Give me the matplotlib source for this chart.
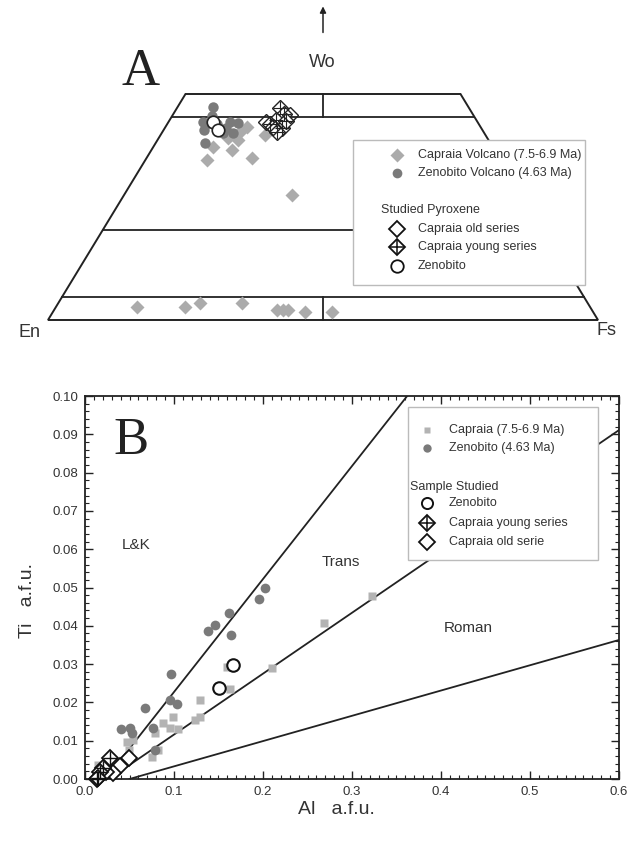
import numpy as np
import matplotlib.pyplot as plt
from matplotlib.patches import Rectangle, Polygon
from matplotlib.ticker import MultipleLocator

plt.rcParams['font.family'] = ['Liberation Sans', 'DejaVu Sans']

# ---------------- Panel A : pyroxene quadrilateral (Wo, Fs in mol %) ----------------
capraia_vol_wo = [38.3, 35.4, 37.6, 35.8, 39.8, 42.7, 41.6, 40.9, 40.3, 27.7,
                  2.9, 2.9, 3.8, 3.8, 2.2, 2.2, 2.2, 1.8, 1.8]
capraia_vol_fs = [10.8, 11.2, 14.7, 19.2, 14.6, 14.8, 14.1, 19.0, 12.6, 30.5,
                  14.7, 23.5, 25.7, 33.4, 40.5, 41.6, 42.5, 45.8, 50.7]
zenobito_vol_wo = [47.1, 43.6, 43.8, 43.8, 43.6, 41.4, 41.4, 39.2, 43.4, 42.5, 42.0, 45.1]
zenobito_vol_fs = [6.5, 7.3, 6.3, 11.2, 12.7, 12.9, 11.1, 8.9, 9.0, 11.1, 7.4, 7.3]

px_old_wo = [43.8, 45.4, 42.7]
px_old_fs = [17.7, 21.3, 19.6]
px_young_wo = [46.9, 45.6, 44.2, 43.4, 42.5, 44.0, 41.6]
px_young_fs = [18.7, 20.1, 19.4, 18.7, 21.3, 21.3, 20.8]
px_zeno_wo = [43.8, 42.0]
px_zeno_fs = [8.1, 9.9]

# ---------------- Panel B : Ti vs Al (a.f.u.) ----------------
capraia_al = [0.322, 0.268, 0.210, 0.163, 0.159, 0.129, 0.124, 0.129, 0.099, 0.088,
              0.0955, 0.105, 0.0787, 0.047, 0.054, 0.082, 0.075, 0.049, 0.015, 0.017]
capraia_ti = [0.0478, 0.0408, 0.0289, 0.0234, 0.0293, 0.0206, 0.0154, 0.0163, 0.0163, 0.0147,
              0.0132, 0.0130, 0.0119, 0.0097, 0.0102, 0.0077, 0.0058, 0.0076, 0.0037, 0.0023]
zenobito_al = [0.202, 0.196, 0.162, 0.146, 0.138, 0.164, 0.097, 0.0955, 0.103, 0.0674,
               0.041, 0.0506, 0.0524, 0.0768, 0.0787, 0.020]
zenobito_ti = [0.050, 0.047, 0.0433, 0.0402, 0.0386, 0.0376, 0.0274, 0.0206, 0.0196, 0.0185,
               0.0130, 0.0132, 0.0119, 0.0132, 0.0076, 0.0010]

st_zeno_al = [0.1667, 0.151]
st_zeno_ti = [0.0298, 0.0237]
st_young_al = [0.028, 0.0206, 0.017, 0.013, 0.015]
st_young_ti = [0.0054, 0.0028, 0.0019, 0.0000, 0.0002]
st_old_al = [0.049, 0.039, 0.032, 0.024]
st_old_ti = [0.0054, 0.0034, 0.0015, 0.0019]

# field boundaries (Al, Ti end points)
lk_trans_al, lk_trans_ti = [0.023, 0.362], [0.0, 0.100]
trans_roman_al, trans_roman_ti = [0.027, 0.600], [0.0, 0.0911]
roman_low_al, roman_low_ti = [0.050, 0.600], [0.0, 0.0363]

LIGHT = '#ababab'
DARK = '#7a7a7a'
W, H = 632, 841


def tern(wo, fs):
    wo = np.asarray(wo, float)
    fs = np.asarray(fs, float)
    return fs + wo / 2.0, wo


fig = plt.figure(figsize=(W / 100, H / 100), dpi=100)

# ---- panel A axes: x = Fs + Wo/2 (0..100), y = Wo ----
axA = fig.add_axes([0, 1 - 350 / H, 1, 350 / H])
axA.set_xlim(-48 / 5.5, (W - 48) / 5.5)
axA.set_ylim((320 - 350) / 4.52, 320 / 4.52)
axA.axis('off')

outline = Polygon([(0, 0), (100, 0), (75, 50), (25, 50)], closed=True,
                  fill=False, ec='#222222', lw=1.4)
axA.add_patch(outline)
for wo in (45, 20, 5):
    axA.plot([wo / 2, 100 - wo / 2], [wo, wo], color='#222222', lw=1.3)
axA.plot([50, 50], [45, 50], color='#222222', lw=1.3)
axA.plot([50, 50], [0, 5], color='#222222', lw=1.3)
axA.annotate('', xy=(50, 70.0), xytext=(50, 63.0),
             arrowprops=dict(arrowstyle='-|>', color='#222222', lw=1.1, mutation_scale=9))

x, y = tern(capraia_vol_wo, capraia_vol_fs)
axA.plot(x, y, 'D', ms=7, color=LIGHT, mec='none', zorder=3)
x, y = tern(zenobito_vol_wo, zenobito_vol_fs)
axA.plot(x, y, 'o', ms=7.5, color=DARK, mec='none', zorder=3)
x, y = tern(px_young_wo, px_young_fs)
axA.plot(x, y, 'D', ms=8, mfc='white', mec='#222222', mew=1.0, zorder=4)
axA.plot(x, y, '+', ms=10, color='#222222', mew=0.8, zorder=5)
x, y = tern(px_old_wo, px_old_fs)
axA.plot(x, y, 'D', ms=8, mfc='none', mec='#222222', mew=1.0, zorder=5)
x, y = tern(px_zeno_wo, px_zeno_fs)
axA.plot(x, y, 'o', ms=9, mfc='white', mec='#222222', mew=1.2, zorder=5)

# ---- panel B axes ----
axB = fig.add_axes([85 / W, 1 - 779 / H, 534 / W, 383 / H])
axB.set_xlim(0, 0.6)
axB.set_ylim(0, 0.10)
axB.plot(lk_trans_al, lk_trans_ti, color='#222222', lw=1.3, zorder=2)
axB.plot(trans_roman_al, trans_roman_ti, color='#222222', lw=1.3, zorder=2)
axB.plot(roman_low_al, roman_low_ti, color='#222222', lw=1.3, zorder=2)

axB.plot(capraia_al, capraia_ti, 's', ms=5.5, color='#b3b3b3', mec='none', zorder=3)
axB.plot(zenobito_al, zenobito_ti, 'o', ms=7, color=DARK, mec='none', zorder=3)
axB.plot(st_old_al, st_old_ti, 'D', ms=8, mfc='white', mec='#111111', mew=1.3, zorder=4, clip_on=False)
axB.plot(st_young_al, st_young_ti, 'D', ms=8, mfc='white', mec='#111111', mew=1.3, zorder=5, clip_on=False)
axB.plot(st_young_al, st_young_ti, '+', ms=10, color='#111111', mew=1.0, zorder=6, clip_on=False)
axB.plot(st_zeno_al, st_zeno_ti, 'o', ms=9, mfc='white', mec='#111111', mew=1.5, zorder=5)

axB.xaxis.set_major_locator(MultipleLocator(0.1))
axB.xaxis.set_minor_locator(MultipleLocator(0.01))
axB.yaxis.set_major_locator(MultipleLocator(0.01))
axB.yaxis.set_minor_locator(MultipleLocator(0.002))
axB.xaxis.set_major_formatter(plt.FuncFormatter(lambda v, p: f'{v:.1f}'))
axB.yaxis.set_major_formatter(plt.FuncFormatter(lambda v, p: f'{v:.2f}'))
axB.tick_params(which='both', direction='in', top=True, right=True,
                labelsize=9.5, colors='#222222', labelcolor='#333333')
axB.tick_params(which='major', length=6, width=1.0, pad=5)
axB.tick_params(which='minor', length=3, width=0.8)
for s in axB.spines.values():
    s.set_linewidth(1.3)
    s.set_color('#222222')

# ---- overlay in pixel coordinates for labels and legends ----
ov = fig.add_axes([0, 0, 1, 1])
ov.set_xlim(0, W)
ov.set_ylim(H, 0)
ov.axis('off')
ov.patch.set_alpha(0)

tc = '#333333'
ov.text(141, 72, 'A', family='Liberation Serif', fontsize=38, ha='center', va='center', color='#222222')
ov.text(322, 62, 'Wo', fontsize=13, ha='center', va='center', color=tc)
ov.text(30, 332, 'En', fontsize=13, ha='center', va='center', color=tc)
ov.text(606, 330, 'Fs', fontsize=13, ha='center', va='center', color=tc)

# legend A
ov.add_patch(Rectangle((353, 140), 232, 145, fc='white', ec='#bbbbbb', lw=1.0, zorder=2))
ov.plot(397, 155, 'D', ms=7, color=LIGHT, mec='none', zorder=3)
ov.plot(397, 173, 'o', ms=7, color=DARK, mec='none', zorder=3)
ov.plot(397, 229, 'D', ms=8, mfc='white', mec='#111111', mew=1.3, zorder=3)
ov.plot(397, 247, 'D', ms=8, mfc='white', mec='#111111', mew=1.3, zorder=3)
ov.plot(397, 247, '+', ms=10, color='#111111', mew=1.1, zorder=4)
ov.plot(397, 266, 'o', ms=9, mfc='white', mec='#111111', mew=1.3, zorder=3)
for ty, s in [(155, 'Capraia Volcano (7.5-6.9 Ma)'), (173, 'Zenobito Volcano (4.63 Ma)'),
              (229, 'Capraia old series'), (247, 'Capraia young series'), (266, 'Zenobito')]:
    ov.text(418, ty, s, fontsize=9, va='center', color=tc, zorder=4)
ov.text(381, 210, 'Studied Pyroxene', fontsize=9, va='center', color=tc, zorder=4)

# panel B labels
ov.text(131, 441, 'B', family='Liberation Serif', fontsize=38, ha='center', va='center', color='#222222')
ov.text(136, 545, 'L&K', fontsize=11, ha='center', va='center', color=tc)
ov.text(341, 562, 'Trans', fontsize=11, ha='center', va='center', color=tc)
ov.text(468, 628, 'Roman', fontsize=11, ha='center', va='center', color=tc)
ov.text(28, 600, 'Ti   a.f.u.', fontsize=14, rotation=90, ha='center', va='center', color=tc)
ov.text(336, 809, 'Al   a.f.u.', fontsize=14, ha='center', va='center', color=tc)

# legend B
ov.add_patch(Rectangle((408, 407), 190, 153, fc='white', ec='#bbbbbb', lw=1.0, zorder=2))
ov.plot(427, 430, 's', ms=5, color='#b3b3b3', mec='none', zorder=3)
ov.plot(427, 448, 'o', ms=6, color=DARK, mec='none', zorder=3)
ov.plot(427, 503, 'o', ms=8, mfc='white', mec='#111111', mew=1.4, zorder=3)
ov.plot(427, 523, 'D', ms=8, mfc='white', mec='#111111', mew=1.3, zorder=3)
ov.plot(427, 523, '+', ms=10, color='#111111', mew=1.1, zorder=4)
ov.plot(427, 542, 'D', ms=8, mfc='white', mec='#111111', mew=1.3, zorder=3)
for ty, s in [(430, 'Capraia (7.5-6.9 Ma)'), (448, 'Zenobito (4.63 Ma)'),
              (503, 'Zenobito'), (523, 'Capraia young series'), (542, 'Capraia old serie')]:
    ov.text(449, ty, s, fontsize=9, va='center', color=tc, zorder=4)
ov.text(410, 487, 'Sample Studied', fontsize=9, va='center', color=tc, zorder=4)

fig.savefig('out.png', dpi=100)
